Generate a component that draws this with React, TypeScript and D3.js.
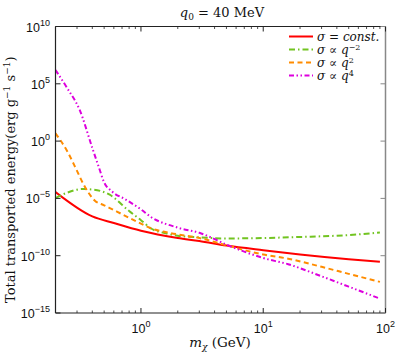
import React from "react";
import * as d3 from "d3";

const constMass = [0.2, 0.4, 0.6, 1.0, 2.0, 3.0, 5.0, 10, 20, 50, 90];
const constVals = [3.6e-5, 2.7e-7, 7.1e-8, 1.5e-8, 3.5e-9, 1.9e-9, 7.6e-10, 3.0e-10, 1.3e-10, 5.0e-11, 3.0e-11];

const qm2Mass = [0.2, 0.25, 0.33, 0.4, 0.55, 0.8, 1.0, 1.2, 1.6, 2.0, 3.0, 5.0, 10, 20, 50, 90];
const qm2Vals = [1.07e-5, 3.2e-5, 6.6e-5, 6.0e-5, 2.2e-5, 7.9e-7, 1.26e-7, 2.5e-8, 8.9e-9, 5.6e-9, 4.0e-9, 3.2e-9, 3.5e-9, 4.3e-9, 6.3e-9, 1.05e-8];

const q2Mass = [0.2, 0.25, 0.3, 0.34, 0.42, 0.5, 0.63, 0.8, 1.0, 1.2, 1.7, 3.0, 5.36, 10, 16, 30, 50, 90];
const q2Vals = [4.7, 0.126, 2.5e-3, 1.6e-4, 6.3e-6, 2.5e-6, 7.4e-7, 2.0e-7, 6.3e-8, 2.5e-8, 1.0e-8, 3.5e-9, 6.6e-10, 1.26e-10, 5.5e-11, 1.07e-11, 2.6e-12, 5.2e-13];

const q4Mass = [0.2, 0.25, 0.316, 0.4, 0.45, 0.5, 0.58, 0.75, 1.0, 1.2, 2.0, 3.0, 5.4, 10, 16, 30, 50, 90];
const q4Vals = [1.6e6, 4.0e4, 500, 0.25, 6.3e-3, 2.5e-4, 4.0e-5, 7.9e-6, 1.1e-6, 2.5e-7, 2.8e-8, 1.0e-8, 6.6e-10, 6.3e-11, 1.8e-11, 1.6e-12, 2.0e-13, 1.8e-14];

const xTicks = [1e0, 1e1, 1e2];
const xTickExp = ["0", "1", "2"];
const yTicks = [1e-15, 1e-10, 1e-5, 1e0, 1e5, 1e10];
const yTickExp = ["\u221215", "\u221210", "\u22125", "0", "5", "10"];

const seriesNames = ["const", "qm2", "q2", "q4"];

export default function App() {
  const W = 399, H = 355;
  const L = 55.5, R = 385.5, T = 26.5, B = 313;
  const x = d3.scaleLog().domain([0.2, 100]).range([L, R]);
  const y = d3.scaleLog().domain([1e-15, 1e10]).range([B, T]);
  const line = d3.line<[number, number]>().x(d => x(d[0])).y(d => y(d[1])).curve(d3.curveMonotoneX);
  const mk = (ms: number[], vs: number[]) => line(ms.map((m, i) => [m, vs[i]] as [number, number])) || "";

  const series = [
    { name: seriesNames[0], d: mk(constMass, constVals), color: "#ff0000", dash: "", w: 2 },
    { name: seriesNames[1], d: mk(qm2Mass, qm2Vals), color: "#72c421", dash: "6,3,1.5,3", w: 2 },
    { name: seriesNames[2], d: mk(q2Mass, q2Vals), color: "#ff8c00", dash: "5,3.5", w: 2 },
    { name: seriesNames[3], d: mk(q4Mass, q4Vals), color: "#dd00dd", dash: "5,2.5,1.5,2.5,1.5,2.5", w: 2 },
  ];

  const minor: number[] = [];
  for (let e = -1; e <= 1; e++) for (let k = 2; k <= 9; k++) { const v = k * Math.pow(10, e); if (v >= 0.2 && v <= 100) minor.push(v); }

  const serif = "'DejaVu Serif', 'Liberation Serif', serif";
  const sans = "'Liberation Sans', Arial, sans-serif";
  const legendItems = [
    { label: <><tspan fontStyle="italic">σ</tspan> = <tspan fontStyle="italic">const.</tspan></>, s: series[0] },
    { label: <><tspan fontStyle="italic">σ</tspan> ∝ <tspan fontStyle="italic">q</tspan><tspan dy={-4} fontSize={8}>−2</tspan></>, s: series[1] },
    { label: <><tspan fontStyle="italic">σ</tspan> ∝ <tspan fontStyle="italic">q</tspan><tspan dy={-4} fontSize={8}>2</tspan></>, s: series[2] },
    { label: <><tspan fontStyle="italic">σ</tspan> ∝ <tspan fontStyle="italic">q</tspan><tspan dy={-4} fontSize={8}>4</tspan></>, s: series[3] },
  ];

  return (
    <svg width={W} height={H} style={{ position: "absolute", left: 0, top: 0, background: "#fff" }}>
      <defs>
        <clipPath id="plotclip"><rect x={L} y={T} width={R - L} height={B - T} /></clipPath>
      </defs>
      <rect x={0} y={0} width={W} height={H} fill="#fff" />
      <g clipPath="url(#plotclip)">
        {series.map(s => (
          <path key={s.name} d={s.d} fill="none" stroke={s.color} strokeWidth={s.w} strokeDasharray={s.dash || undefined} />
        ))}
      </g>
      {/* frame */}
      <line x1={L} y1={T} x2={R} y2={T} stroke="#222" strokeWidth={1.2} />
      <line x1={L} y1={B} x2={R} y2={B} stroke="#222" strokeWidth={1.2} />
      <line x1={L} y1={T} x2={L} y2={B} stroke="#222" strokeWidth={1.2} />
      <line x1={R} y1={T} x2={R} y2={B} stroke="#888" strokeWidth={1.5} />
      {/* x ticks */}
      {xTicks.map(t => (
        <g key={"xt" + t}>
          <line x1={x(t)} x2={x(t)} y1={B} y2={B - 5} stroke="#222" />
          <line x1={x(t)} x2={x(t)} y1={T} y2={T + 5} stroke="#222" />
        </g>
      ))}
      {minor.map(t => (
        <g key={"xm" + t}>
          <line x1={x(t)} x2={x(t)} y1={B} y2={B - 2.5} stroke="#222" strokeWidth={0.8} />
          <line x1={x(t)} x2={x(t)} y1={T} y2={T + 2.5} stroke="#222" strokeWidth={0.8} />
        </g>
      ))}
      {xTicks.map((t, i) => (
        <text key={"xl" + t} x={x(t)} y={333} textAnchor="middle" fontFamily={sans} fontSize={12.5} fill="#111">
          10<tspan dy={-6} fontSize={9}>{xTickExp[i]}</tspan>
        </text>
      ))}
      {/* y ticks */}
      {yTicks.map((t, i) => (
        <g key={"yt" + t}>
          <line x1={L} x2={L + 5} y1={y(t)} y2={y(t)} stroke="#222" />
          <line x1={R} x2={R - 5} y1={y(t)} y2={y(t)} stroke="#888" />
          <text x={50} y={y(t) + 5} textAnchor="end" fontFamily={sans} fontSize={12.5} fill="#111">
            10<tspan dy={-6} fontSize={9}>{yTickExp[i]}</tspan>
          </text>
        </g>
      ))}
      {/* title */}
      <text x={222} y={17} textAnchor="middle" fontFamily={serif} fontSize={13} fill="#111">
        <tspan fontStyle="italic">q</tspan><tspan dy={3} fontSize={9}>0</tspan><tspan dy={-3}> = 40 MeV</tspan>
      </text>
      {/* x label */}
      <text x={220} y={347} textAnchor="middle" fontFamily={serif} fontSize={13.5} fill="#111">
        <tspan fontStyle="italic">m</tspan><tspan dy={3} fontSize={9} fontStyle="italic">χ</tspan><tspan dy={-3}> (GeV)</tspan>
      </text>
      {/* y label */}
      <text transform={`translate(15,${(T + B) / 2 + 10}) rotate(-90)`} textAnchor="middle" fontFamily={serif} fontSize={13} fill="#111">
        Total transported energy(erg g<tspan dy={-5} fontSize={9}>−1</tspan><tspan dy={5}> s</tspan><tspan dy={-5} fontSize={9}>−1</tspan><tspan dy={5}>)</tspan>
      </text>
      {/* legend */}
      {legendItems.map((it, i) => {
        const ly = 36.5 + i * 13;
        return (
          <g key={"lg" + i}>
            <line x1={289} x2={313} y1={ly} y2={ly} stroke={it.s.color} strokeWidth={2} strokeDasharray={it.s.dash || undefined} />
            <text x={317} y={ly + 4} fontFamily={serif} fontSize={12} fill="#111">{it.label}</text>
          </g>
        );
      })}
    </svg>
  );
}
